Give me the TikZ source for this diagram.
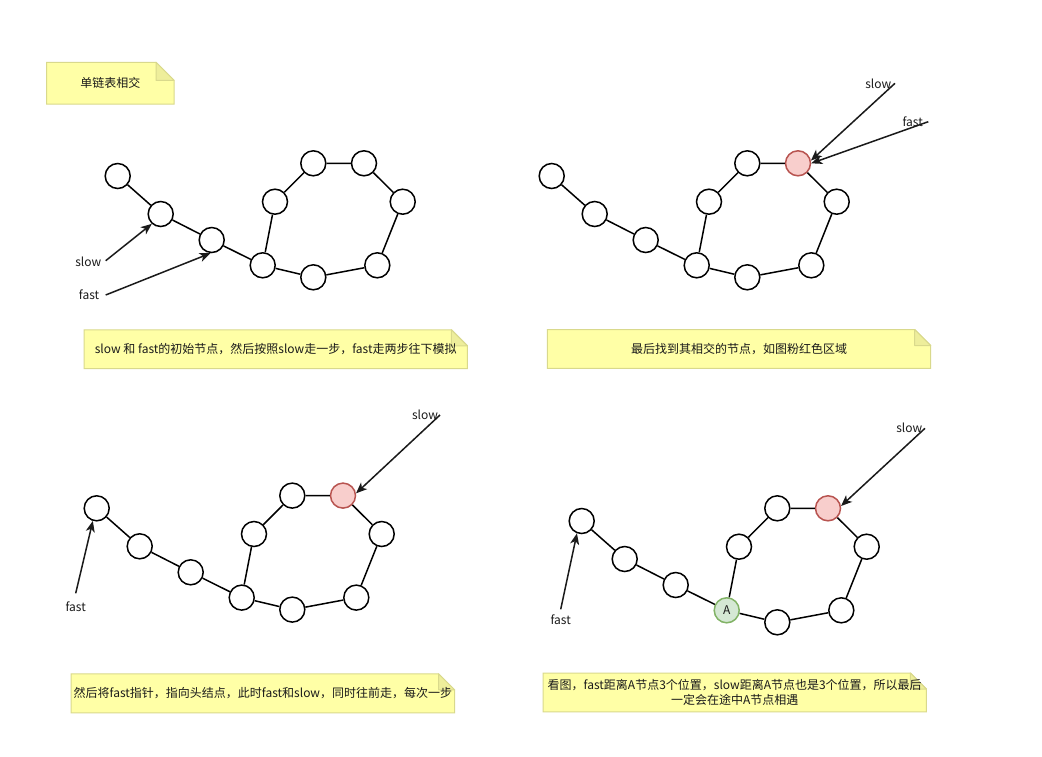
\documentclass[tikz,border=0pt]{standalone}
\usepackage{fontspec}
\setmainfont{Noto Sans CJK SC}
\usetikzlibrary{arrows.meta,backgrounds}
\pgfdeclarelayer{bottom}
\pgfsetlayers{bottom,background,main}
\definecolor{notefill}{HTML}{FFFFA6}
\definecolor{noteline}{HTML}{D9D98C}
\definecolor{notefoldc}{HTML}{EEEE9B}
\definecolor{redfill}{HTML}{F8CECC}
\definecolor{redline}{HTML}{B85450}
\definecolor{greenfill}{HTML}{D5E8D4}
\definecolor{greenline}{HTML}{82B366}
\definecolor{ink}{HTML}{1A1A1A}
\tikzset{
  cnode/.style={circle, draw=black, line width=1.5pt, fill=white, minimum size=25pt, inner sep=0pt, text=ink},
  rednode/.style={fill=redfill, draw=redline},
  greennode/.style={fill=greenfill, draw=greenline},
  link/.style={draw=black, line width=1.5pt},
  ptr/.style={draw=ink, line width=1.5pt, -{Stealth[length=11pt,width=9pt,inset=3pt]}},
  lbl/.style={text=ink, inner sep=0pt},
  notebox/.style={minimum width=383pt, minimum height=38.5pt, inner sep=0pt, text=ink},
  noteshape/.style={fill=notefill, draw=noteline, line width=1pt},
  foldshape/.style={fill=notefoldc, draw=noteline, line width=1pt, line join=round},
}
\newcommand\notefold[2]{%
  \begin{scope}[on background layer]
    \path[noteshape] (#1.south west) -- (#1.north west) -- ([xshift=-#2]#1.north east)
      -- ([yshift=-#2]#1.north east) -- (#1.south east) -- cycle;
    \path[foldshape] ([xshift=-#2]#1.north east) -- ([xshift=-#2,yshift=-#2]#1.north east)
      -- ([yshift=-#2]#1.north east) -- cycle;
  \end{scope}}
\newcommand\chainlist[4]{%
  \node[cnode] (#1n1) at (117.7,176) {};
  \node[cnode] (#1n2) at (160.7,214) {};
  \node[cnode] (#1n3) at (211.7,240) {};
  \node[cnode,#3] (#1n4) at (262.7,265.3) {#4};
  \node[cnode] (#1n5) at (275,201.7) {};
  \node[cnode] (#1n6) at (313.3,163.3) {};
  \node[cnode,#2] (#1n7) at (364,163.3) {};
  \node[cnode] (#1n8) at (402.7,201.7) {};
  \node[cnode] (#1n9) at (377.3,265.3) {};
  \node[cnode] (#1n10) at (313.3,277.3) {};
  \draw[link] (#1n1) -- (#1n2) -- (#1n3) -- (#1n4) -- (#1n5) -- (#1n6) -- (#1n7)
    -- (#1n8) -- (#1n9) -- (#1n10) -- (#1n4);
}
\begin{document}
\begin{tikzpicture}[x=1pt, y=-1pt, font=\fontsize{12}{14}\selectfont]
\begin{pgfonlayer}{bottom}
  \fill[white] (0,0) rectangle (1042,756);
\end{pgfonlayer}
\useasboundingbox (0,0) rectangle (1042,756);

% title note
\node[notebox, minimum width=127pt, minimum height=41.5pt] (nt0) at (110.3,83.2) {单链表相交};
\notefold{nt0}{18pt}

% panel 1
\begin{scope}
  \chainlist{a}{}{}{}
\end{scope}
\coordinate (as) at (105.7,260.7);
\coordinate (af) at (105.7,295);
\node[lbl] (asl) at (88.3,261.7) {slow};
\node[lbl] (afl) at (89,295) {fast};
\draw[ptr] (as) -- (an2.-132);
\draw[ptr] (af) -- (an3.-95);
\node[notebox] (nt1) at (275.7,349.2) {slow 和 fast的初始节点，然后按照slow走一步，fast走两步往下模拟};
\notefold{nt1}{16pt}

% panel 2
\begin{scope}[shift={(434,0)}]
  \chainlist{b}{rednode}{}{}
\end{scope}
\coordinate (bs) at (895,83.3);
\coordinate (bf) at (928.3,121.7);
\node[lbl] (bsl) at (878.3,83.3) {slow};
\node[lbl] (bfl) at (912.7,121.7) {fast};
\draw[ptr] (bs) -- (bn7.12);
\draw[ptr] (bf) -- (bn7.0);
\node[notebox] (nt2) at (739,349) {最后找到其相交的节点，如图粉红色区域};
\notefold{nt2}{16pt}

% panel 3
\begin{scope}[shift={(-21,332.3)}]
  \chainlist{c}{rednode}{}{}
\end{scope}
\coordinate (cs) at (440,415);
\coordinate (cf) at (75.7,593.3);
\node[lbl] (csl) at (425,415) {slow};
\node[lbl] (cfl) at (75.7,606.7) {fast};
\draw[ptr] (cs) -- (cn7.10);
\draw[ptr] (cf) -- (cn1.-107);
\node[notebox] (nt3) at (262.9,693.3) {然后将fast指针，指向头结点，此时fast和slow，同时往前走，每次一步};
\notefold{nt3}{16pt}

% panel 4
\begin{scope}[shift={(464,345)}]
  \chainlist{d}{rednode}{greennode}{A}
\end{scope}
\coordinate (ds) at (925,428.3);
\coordinate (df) at (560.7,609.3);
\node[lbl] (dsl) at (909.3,427.3) {slow};
\node[lbl] (dfl) at (560.7,619.3) {fast};
\draw[ptr] (ds) -- (dn7.10);
\draw[ptr] (df) -- (dn1.-111);
\node[notebox, align=center, font=\fontsize{12}{15.5}\selectfont] (nt4) at (734.7,692.5)
  {看图，fast距离A节点3个位置，slow距离A节点也是3个位置，所以最后\\一定会在途中A节点相遇};
\notefold{nt4}{16pt}
\end{tikzpicture}
\end{document}
